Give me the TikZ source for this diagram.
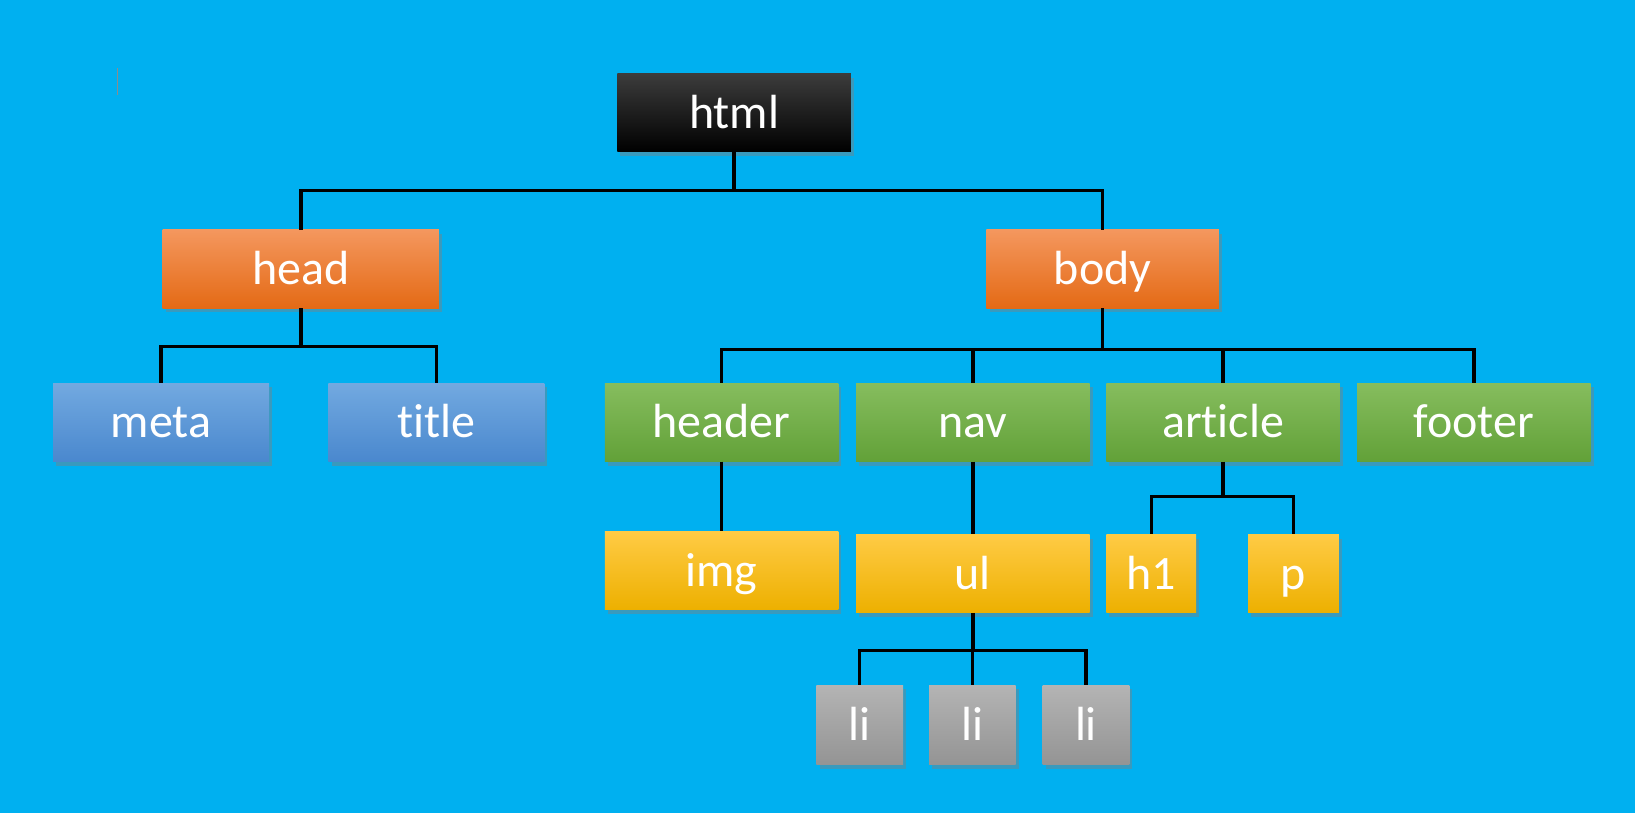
\documentclass[tikz,border=0pt]{standalone}
\usepackage{fontspec}
\setmainfont{Carlito}[Ligatures=NoCommon]
\usetikzlibrary{shadows}

\definecolor{skyback}{HTML}{00B0F0}
\definecolor{rootTop}{HTML}{3C3C3C}
\definecolor{rootBot}{HTML}{000000}
\definecolor{orangeTop}{HTML}{F4975E}
\definecolor{orangeBot}{HTML}{E46A15}
\definecolor{blueTop}{HTML}{72A9E0}
\definecolor{blueBot}{HTML}{4A88CE}
\definecolor{greenTop}{HTML}{86BD5E}
\definecolor{greenBot}{HTML}{62A138}
\definecolor{yellowTop}{HTML}{FFCB45}
\definecolor{yellowBot}{HTML}{EDB000}
\definecolor{greyTop}{HTML}{B4B4B4}
\definecolor{greyBot}{HTML}{949494}

\tikzset{
  tag/.style={minimum width=224pt, minimum height=75pt, inner sep=0pt,
    text height=30pt, text depth=0pt,
    text=white, font=\fontsize{46}{52}\selectfont,
    drop shadow={shadow xshift=3pt, shadow yshift=-4pt, opacity=0.45}},
  rootbox/.style={tag, top color=rootTop, bottom color=rootBot},
  orangebox/.style={tag, top color=orangeTop, bottom color=orangeBot},
  bluebox/.style={tag, minimum width=207pt, top color=blueTop, bottom color=blueBot},
  greenbox/.style={tag, top color=greenTop, bottom color=greenBot},
  yellowbox/.style={tag, top color=yellowTop, bottom color=yellowBot},
  greybox/.style={tag, minimum width=83pt, minimum height=76pt, top color=greyTop, bottom color=greyBot},
  wire/.style={line width=3.2pt, black},
}

\begin{document}
\begin{tikzpicture}[x=1pt, y=-1pt]
			%%%%% START %%%%%
			\def\rowa{108}
			\def\rowb{258}
			\def\rowc{405}
			\def\rowd{550}
			\def\rowe{695}

			\fill[skyback] (0,0) rectangle (1568,780);
			\useasboundingbox (0,0) rectangle (1568,780);
			\draw[black!45, line width=1pt] (113,65) -- (113,91);

			\node[rootbox] (html) at (704,\rowa) {html};

			\node[orangebox, minimum width=265pt] (head) at (288.5,\rowb) {head};
			\node[orangebox, minimum width=223pt] (body) at (1057.5,\rowb) {body};

			\node[bluebox] (meta) at (154.5,\rowc) {meta};
			\node[bluebox] (title) at (418.5,\rowc) {title};

			\node[greenbox] (header) at (692,\rowc) {header};
			\node[greenbox] (nav) at (933,\rowc) {nav};
			\node[greenbox] (article) at (1173,\rowc) {article};
			\node[greenbox] (footer) at (1413.5,\rowc) {footer};

			\node[yellowbox] (img) at (692,\rowd-3) {img};
			\node[yellowbox] (ul) at (933,\rowd) {ul};
			\node[yellowbox, minimum width=86pt] (h1) at (1104,\rowd) {h1};
			\node[yellowbox, minimum width=87pt] (p) at (1240.5,\rowd) {p};

			\node[greybox] (li1) at (824.5,\rowe) {li};
			\node[greybox] (li2) at (932.5,\rowe) {li};
			\node[greybox] (li3) at (1041.5,\rowe) {li};

			% branches
			\coordinate (busroot) at (704,183);
			\coordinate (bushead) at (288.5,332);
			\coordinate (busbody) at (1057.5,335);
			\coordinate (busart) at (1173,476);
			\coordinate (busul) at (933,624);

			\draw[wire] (html.south) -- (busroot) -| (head.north);
			\draw[wire] (busroot) -| (body.north);

			\draw[wire] (head.south) -- (bushead) -| (meta.north);
			\draw[wire] (bushead) -| (title.north);

			\draw[wire] (body.south) -- (busbody) -| (header.north);
			\draw[wire] (busbody) -| (footer.north);
			\draw[wire] (nav.north) -- (nav.north |- busbody);
			\draw[wire] (article.north) -- (article.north |- busbody);

			\draw[wire] (header.south) -- (header.south |- img.north);
			\draw[wire] (nav.south) -- (nav.south |- ul.north);

			\draw[wire] (article.south) -- (busart) -| (h1.north);
			\draw[wire] (busart) -| (p.north);

			\draw[wire] (ul.south) -- (busul) -| (li1.north);
			\draw[wire] (busul) -| (li3.north);
			\draw[wire] (li2.north) -- (li2.north |- busul);
			%%%%% END %%%%%
\end{tikzpicture}
\end{document}
